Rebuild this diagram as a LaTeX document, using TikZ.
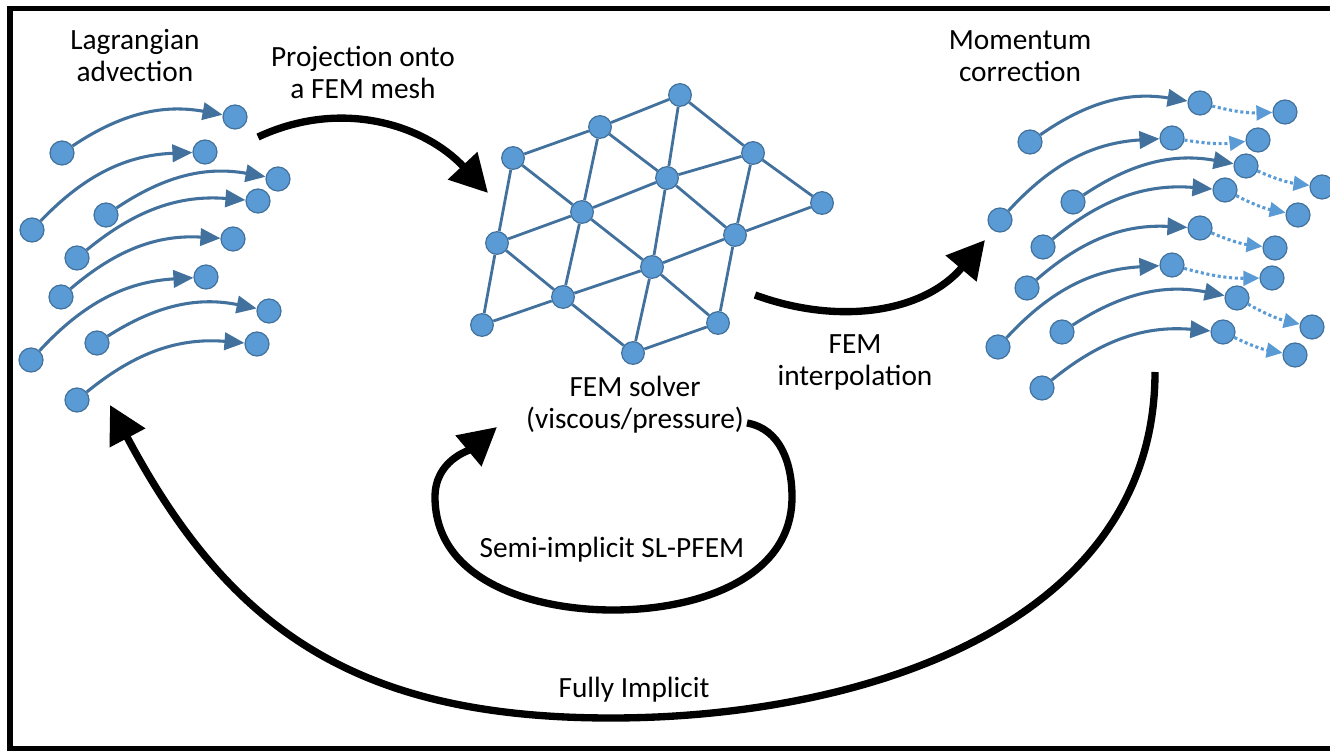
\documentclass[tikz,border=0pt]{standalone}
\usepackage{fontspec}
\setmainfont{Carlito}
\usepackage{xcolor}
\usepackage{tikz}
\usetikzlibrary{arrows.meta,positioning}
\definecolor{dotc}{HTML}{5B9BD5}
\definecolor{edgec}{HTML}{41719C}
\tikzset{
  dot/.style={circle,draw=edgec,line width=0.9pt,fill=dotc,minimum size=18pt,inner sep=0pt},
  mdot/.style={dot,minimum size=17pt},
  flow/.style={-{Triangle[length=15pt,width=13pt]},line width=2.3pt,edgec,bend left=22},
  corr/.style={-{Triangle[length=12pt,width=11pt]},line width=2.3pt,dotc,dotted,bend right=8},
  mline/.style={line width=2.1pt,edgec},
  big/.style={-{Triangle[length=28pt,width=29pt]},line width=5.5pt,black},
  lbl/.style={align=center,font=\fontsize{22}{24}\selectfont,inner sep=1pt}
}

\begin{document}
\begin{tikzpicture}[x=0.75pt,y=0.75pt]
\useasboundingbox (0,0) rectangle (1330,750);
\clip (0,0) rectangle (1330,750);
\draw[line width=3.8pt] (1340,741.5) -- (10,741.5) -- (10,1) -- (1340,1);
% labels
\node[lbl] (lag) at (135,694) {Lagrangian\\advection};
\node[lbl] (proj) at (363,678) {Projection onto\\a FEM mesh};
\node[lbl] (mom) at (1020,694) {Momentum\\correction};
\node[lbl] (interp) at (855,388) {FEM\\interpolation};
\node[lbl] (solver) at (635,345) {FEM solver\\(viscous/pressure)};
\node[lbl] (semi) at (612,200) {Semi-implicit SL-PFEM};
\node[lbl] (fully) at (634,60) {Fully Implicit};
% lagrangian advection
\foreach \i/\sx/\sy/\ex/\ey in {1/62/597/235/633, 2/32/520/205/598, 3/106/535/278/571,
    4/77/492/258/549, 5/61/453/233/511, 6/31/390/206/473, 7/97/407/269/439, 8/77/350/257/406} {
  \node[dot] (ls\i) at (\sx,\sy) {};
  \node[dot] (le\i) at (\ex,\ey) {};
  \draw[flow] (ls\i) to (le\i);
}
% FEM mesh
\foreach \n/\x/\y in {A/680/655, B/600/623, C/513/592, D/753/597, E/667/572, F/822/547, G/582/538,
    H/497/507, I/735/515, J/652/483, K/563/453, L/482/425, M/718/427, N/633/397}
  \node[mdot] (\n) at (\x,\y) {};
\foreach \a/\b in {C/B, B/A, A/D, D/F, C/G, B/E, G/J, E/I, H/K, K/N, J/M,
    C/H, H/L, B/G, G/K, A/E, E/J, J/N, D/I, I/M,
    H/G, G/E, E/D, L/K, K/J, J/I, I/F, N/M}
  \draw[mline] (\a) -- (\b);
% momentum correction
\foreach \i/\sx/\sy/\mx/\my/\ex/\ey in {1/1030/608/1200/647/1285/638, 2/1000/530/1172/612/1258/610,
    3/1073/548/1246/584/1322/563, 4/1043/503/1225/560/1298/535, 5/1027/462/1200/522/1275/502,
    6/998/403/1172/485/1272/472, 7/1062/418/1237/452/1312/423, 8/1042/362/1223/418/1295/395} {
  \node[dot] (rs\i) at (\sx,\sy) {};
  \node[dot] (rm\i) at (\mx,\my) {};
  \node[dot] (re\i) at (\ex,\ey) {};
  \draw[flow] (rs\i) to (rm\i);
  \draw[corr] (rm\i) to (re\i);
}
% process arrows
\coordinate (p0) at (258,613);
\coordinate (p1) at (488,557);
\coordinate (i0) at (755,455);
\coordinate (i1) at (985,510);
\coordinate (s0) at (747,327);
\coordinate (s1) at (497,323);
\coordinate (f0) at (1155,378);
\coordinate (f1) at (110,345);
\draw[big] (p0) to[out=25,in=133] (p1);
\draw[big] (i0) to[out=-20,in=230] (i1);
\draw[big] (s0) to[out=-10,in=90] (792,253) to[out=-90,in=0] (613,140)
  to[out=180,in=-90] (435,253) to[out=90,in=220] (s1);
\draw[big] (f0) to[out=-90,in=0] (611,32) to[out=180,in=-62,looseness=1.1] (f1);
\end{tikzpicture}
\end{document}
